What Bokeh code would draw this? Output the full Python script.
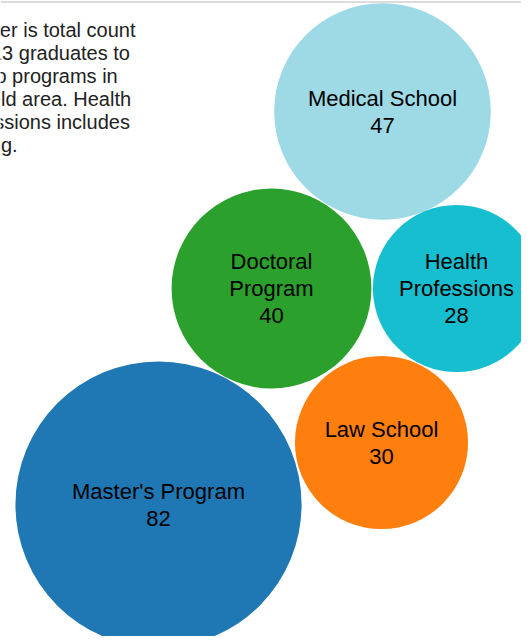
from bokeh.plotting import figure
from bokeh.models import Range1d, ColumnDataSource, Span
from bokeh.core.properties import value
from bokeh.embed import file_html
from bokeh.resources import INLINE
import math

# ---- data ----
categories = ["Medical School", "Doctoral Program", "Health Professions", "Law School", "Master's Program"]
counts = [47, 40, 28, 30, 82]
colors = ["#9edae5", "#2ca02c", "#17becf", "#ff7f0e", "#1f77b4"]
wrapped = ["Doctoral Program", "Health Professions"]
note_lines = [
    "Number is total count",
    "of 2013 graduates to",
    "go into programs in",
    "the field area. Health",
    "Professions includes",
    "nursing.",
]

# ---- layout (bubble pack centres, in pixels) ----
cx = [382, 271, 456, 381, 158]
cy = [111, 288, 288, 442, 504]
RADIUS_SCALE = 15.8  # sqrt scale: pixels per sqrt(count)

W, H = 521, 636

labels = []
for c, n in zip(categories, counts):
    name = c.replace(" ", "\n") if c in wrapped else c
    labels.append(f"{name}\n{n}")

src = ColumnDataSource(dict(
    x=cx, y=cy,
    r=[RADIUS_SCALE * math.sqrt(v) for v in counts],
    color=colors, label=labels,
))

p = figure(width=W, height=H, output_backend="svg", toolbar_location=None,
           x_range=Range1d(0, W), y_range=Range1d(H, 0), min_border=0)
p.axis.visible = False
p.grid.visible = False
p.outline_line_color = None
p.background_fill_color = "white"
p.border_fill_color = "white"

p.add_layout(Span(location=1.5, dimension="width", line_color="#dcdcdc", line_width=2))

p.circle(x="x", y="y", radius="r", source=src, fill_color="color", line_color=None)

p.text(x="x", y="y", text="label", source=src, text_align="center",
       text_baseline="middle", text_font=value("Liberation Sans"),
       text_font_size="22px", text_color="black", text_line_height=1.08)

p.text(x=[-54], y=[18], text=["\n".join(note_lines)], text_align="left",
       text_baseline="top", text_font=value("Liberation Sans"),
       text_font_size="20px", text_color="#222222", text_line_height=1.05)

open("out.html", "w").write(file_html(p, INLINE))
